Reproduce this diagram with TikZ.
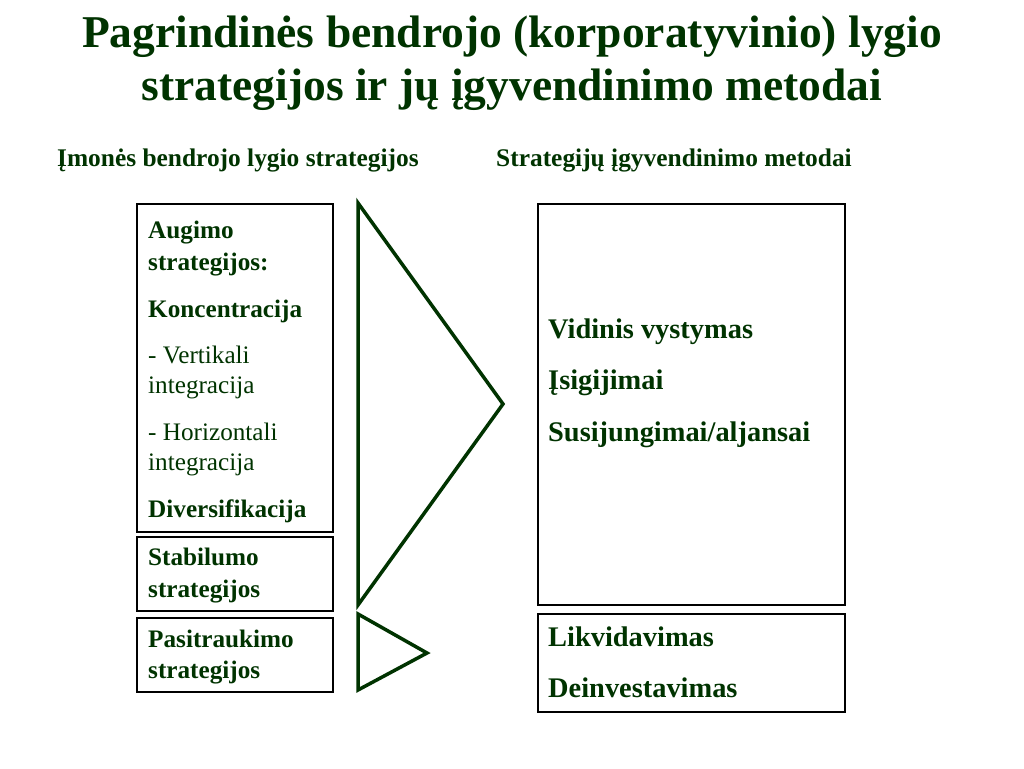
\documentclass[tikz,border=0pt]{standalone}
\usepackage{fontspec}
\setmainfont{Liberation Serif}
\definecolor{dkgreen}{HTML}{003300}
\begin{document}
\begin{tikzpicture}[x=1pt,y=-1pt,
  box/.style={draw=black,line width=2pt,inner sep=0pt},
  tri/.style={draw=dkgreen,line width=3.5pt,line join=miter},
  ttl/.style={text=dkgreen,font=\fontsize{45.5}{50}\selectfont\bfseries,anchor=base,inner sep=0pt},
  sub/.style={text=dkgreen,font=\fontsize{25.4}{28}\selectfont\bfseries,anchor=base west,inner sep=0pt},
  bt/.style={text=dkgreen,font=\fontsize{25.2}{28}\selectfont\bfseries,anchor=base west,inner sep=0pt},
  rt/.style={text=dkgreen,font=\fontsize{25.2}{28}\selectfont,anchor=base west,inner sep=0pt},
  big/.style={text=dkgreen,font=\fontsize{28.4}{32}\selectfont\bfseries,anchor=base west,inner sep=0pt}]
\useasboundingbox[fill=white] (0,0) rectangle (1024,768);
% title
\node[ttl] (t1) at (512,48) {Pagrindinės bendrojo (korporatyvinio) lygio};
\node[ttl] (t2) at (512,100) {strategijos ir jų įgyvendinimo metodai};
\node[sub] (h1) at (57,166) {Įmonės bendrojo lygio strategijos};
\node[sub] (h2) at (496,166) {Strategijų įgyvendinimo metodai};
% left boxes
\draw[box] (137,204) rectangle (333,532);
\draw[box] (137,537) rectangle (333,611);
\draw[box] (137,618) rectangle (333,692);
% right boxes
\draw[box] (538,204) rectangle (845,605);
\draw[box] (538,614) rectangle (845,712);
% triangles
\draw[tri] (358,203) -- (503,404) -- (358,605) -- cycle;
\draw[tri] (358,614) -- (427,653) -- (358,690) -- cycle;
% left box text
\node[bt] (a1) at (148,238) {Augimo};
\node[bt] (a2) at (148,270) {strategijos:};
\node[bt] (a3) at (148,317) {Koncentracija};
\node[rt] (a4) at (148,363) {- Vertikali};
\node[rt] (a5) at (148,393) {integracija};
\node[rt] (a6) at (148,440) {- Horizontali};
\node[rt] (a7) at (148,470) {integracija};
\node[bt] (a8) at (148,517) {Diversifikacija};
\node[bt] (s1) at (148,565) {Stabilumo};
\node[bt] (s2) at (148,597) {strategijos};
\node[bt] (p1) at (148,647) {Pasitraukimo};
\node[bt] (p2) at (148,678) {strategijos};
% right box text
\node[big] (v1) at (548,338) {Vidinis vystymas};
\node[big] (v2) at (548,389) {Įsigijimai};
\node[big] (v3) at (548,441) {Susijungimai/aljansai};
\node[big] (l1) at (548,646) {Likvidavimas};
\node[big] (l2) at (548,697) {Deinvestavimas};
\end{tikzpicture}
\end{document}
